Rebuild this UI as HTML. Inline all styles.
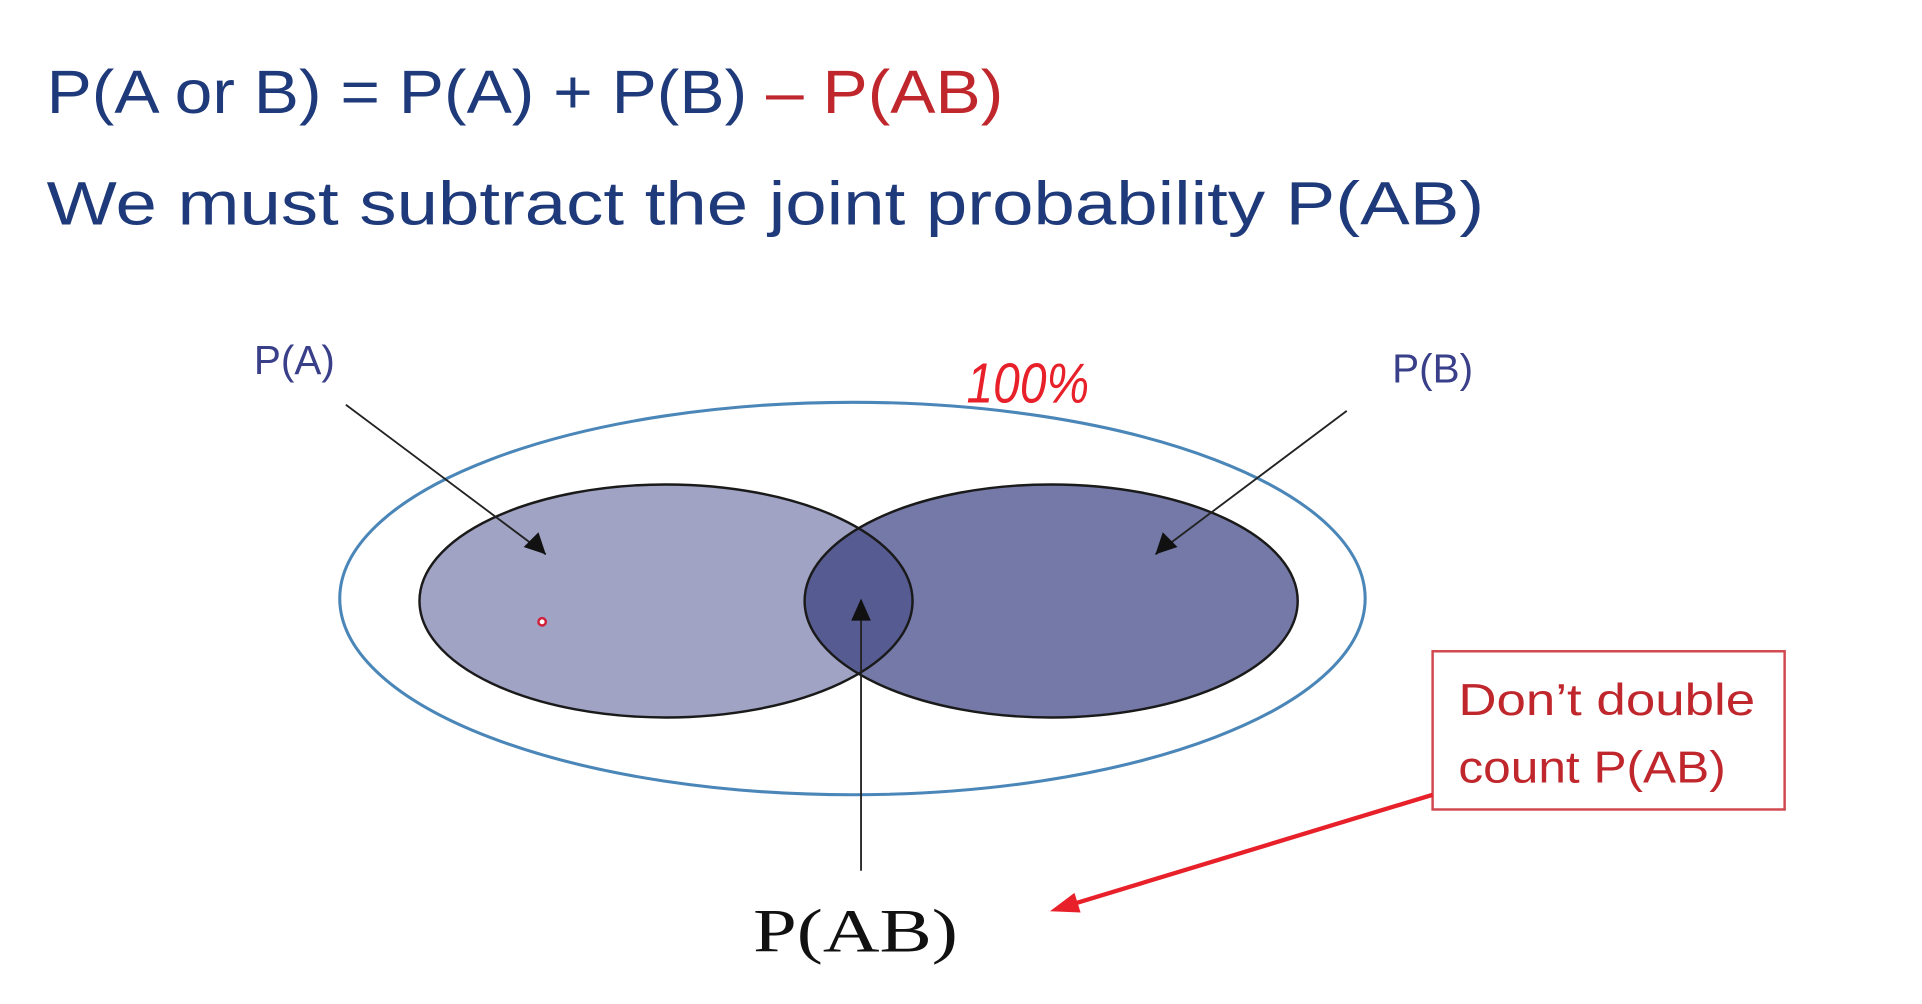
<!DOCTYPE html>
<html><head><meta charset="utf-8"><style>
html,body{margin:0;padding:0;background:#fff;overflow:hidden}
svg{display:block}
</style></head><body>
<svg id="chart" width="1922" height="1004" viewBox="0 0 1567 818.6" preserveAspectRatio="none" xmlns="http://www.w3.org/2000/svg">
  <text x="38" y="92" font-family="Liberation Sans, sans-serif" font-size="50" fill="#1f3a7a" textLength="780" lengthAdjust="spacingAndGlyphs">P(A or B) = P(A) + P(B) <tspan fill="#c0272d">– P(AB)</tspan></text>
  <text x="38" y="183" font-family="Liberation Sans, sans-serif" font-size="50" fill="#1f3a7a" textLength="1172" lengthAdjust="spacingAndGlyphs">We must subtract the joint probability P(AB)</text>
  <ellipse cx="695" cy="488" rx="418" ry="160" fill="none" stroke="#4a86b8" stroke-width="2.5"/>
  <defs></defs>
  <g id="sets"></g>
  <text x="788" y="328" font-family="Liberation Sans, sans-serif" font-style="italic" font-size="46" fill="#e8202a" textLength="100" lengthAdjust="spacingAndGlyphs">100%</text>
  <circle cx="442" cy="507" r="3" fill="#fff" stroke="#d0203a" stroke-width="2"/>
  <line x1="282" y1="330" x2="445" y2="452" stroke="#222" stroke-width="1.5"/>
  <path d="M445,452 L427,446 L439,434 z" fill="#111"/>
  <line x1="1098" y1="335" x2="942" y2="452" stroke="#222" stroke-width="1.5"/>
  <path d="M942,452 L948,434 L960,446 z" fill="#111"/>
  <line x1="702" y1="710" x2="702" y2="490" stroke="#222" stroke-width="1.5"/>
  <path d="M702,488 L694,506 L710,506 z" fill="#111"/>
  <text x="207" y="305" font-family="Liberation Sans, sans-serif" font-size="33" fill="#3a3f8a">P(A)</text>
  <text x="1135" y="312" font-family="Liberation Sans, sans-serif" font-size="33" fill="#3a3f8a">P(B)</text>
  <text x="614" y="776" font-family="Liberation Serif, serif" font-size="50" fill="#111" textLength="167" lengthAdjust="spacingAndGlyphs">P(AB)</text>
  <rect x="1168" y="531" width="287" height="129" fill="#fff" stroke="#d0484e" stroke-width="2"/>
  <text font-family="Liberation Sans, sans-serif" font-size="36" fill="#c0272d"><tspan x="1189" y="583" textLength="242" lengthAdjust="spacingAndGlyphs">Don’t double</tspan><tspan x="1189" y="638" textLength="218" lengthAdjust="spacingAndGlyphs">count P(AB)</tspan></text>
  <line x1="1168" y1="648" x2="862" y2="741" stroke="#e8202a" stroke-width="3.5"/>
  <path d="M856,743 L876,728 L881,744 z" fill="#e8202a"/>
</svg>
<script>
var setNames = ["A", "B"];
var setCenters = [543, 857];
var setRadiiX = [201, 201];
var setRadiiY = [95, 95];
var setFills = ["#a0a3c4", "#7479a8"];
var cy = 490;
var ns = "http://www.w3.org/2000/svg";
var g = document.getElementById("sets");
var defs = document.querySelector("defs");
var cp = document.createElementNS(ns, "clipPath");
cp.setAttribute("id", "clipA");
var ce = document.createElementNS(ns, "ellipse");
ce.setAttribute("cx", setCenters[0]); ce.setAttribute("cy", cy);
ce.setAttribute("rx", setRadiiX[0]); ce.setAttribute("ry", setRadiiY[0]);
cp.appendChild(ce); defs.appendChild(cp);
for (var i = 0; i < setNames.length; i++) {
  var e = document.createElementNS(ns, "ellipse");
  
  
  e.setAttribute("cx", setCenters[i]); e.setAttribute("cy", cy);
  e.setAttribute("rx", setRadiiX[i]); e.setAttribute("ry", setRadiiY[i]);
  e.setAttribute("fill", setFills[i]);
  g.appendChild(e);
}
var inter = document.createElementNS(ns, "ellipse");


inter.setAttribute("cx", setCenters[1]); inter.setAttribute("cy", cy);
inter.setAttribute("rx", setRadiiX[1]); inter.setAttribute("ry", setRadiiY[1]);
inter.setAttribute("fill", "#565b91");
inter.setAttribute("clip-path", "url(#clipA)");
g.appendChild(inter);
for (var j = 0; j < setNames.length; j++) {
  var o = document.createElementNS(ns, "ellipse");
  
  
  o.setAttribute("cx", setCenters[j]); o.setAttribute("cy", cy);
  o.setAttribute("rx", setRadiiX[j]); o.setAttribute("ry", setRadiiY[j]);
  o.setAttribute("fill", "none"); o.setAttribute("stroke", "#1a1a1a"); o.setAttribute("stroke-width", "2");
  g.appendChild(o);
}
</script>
</body></html>
